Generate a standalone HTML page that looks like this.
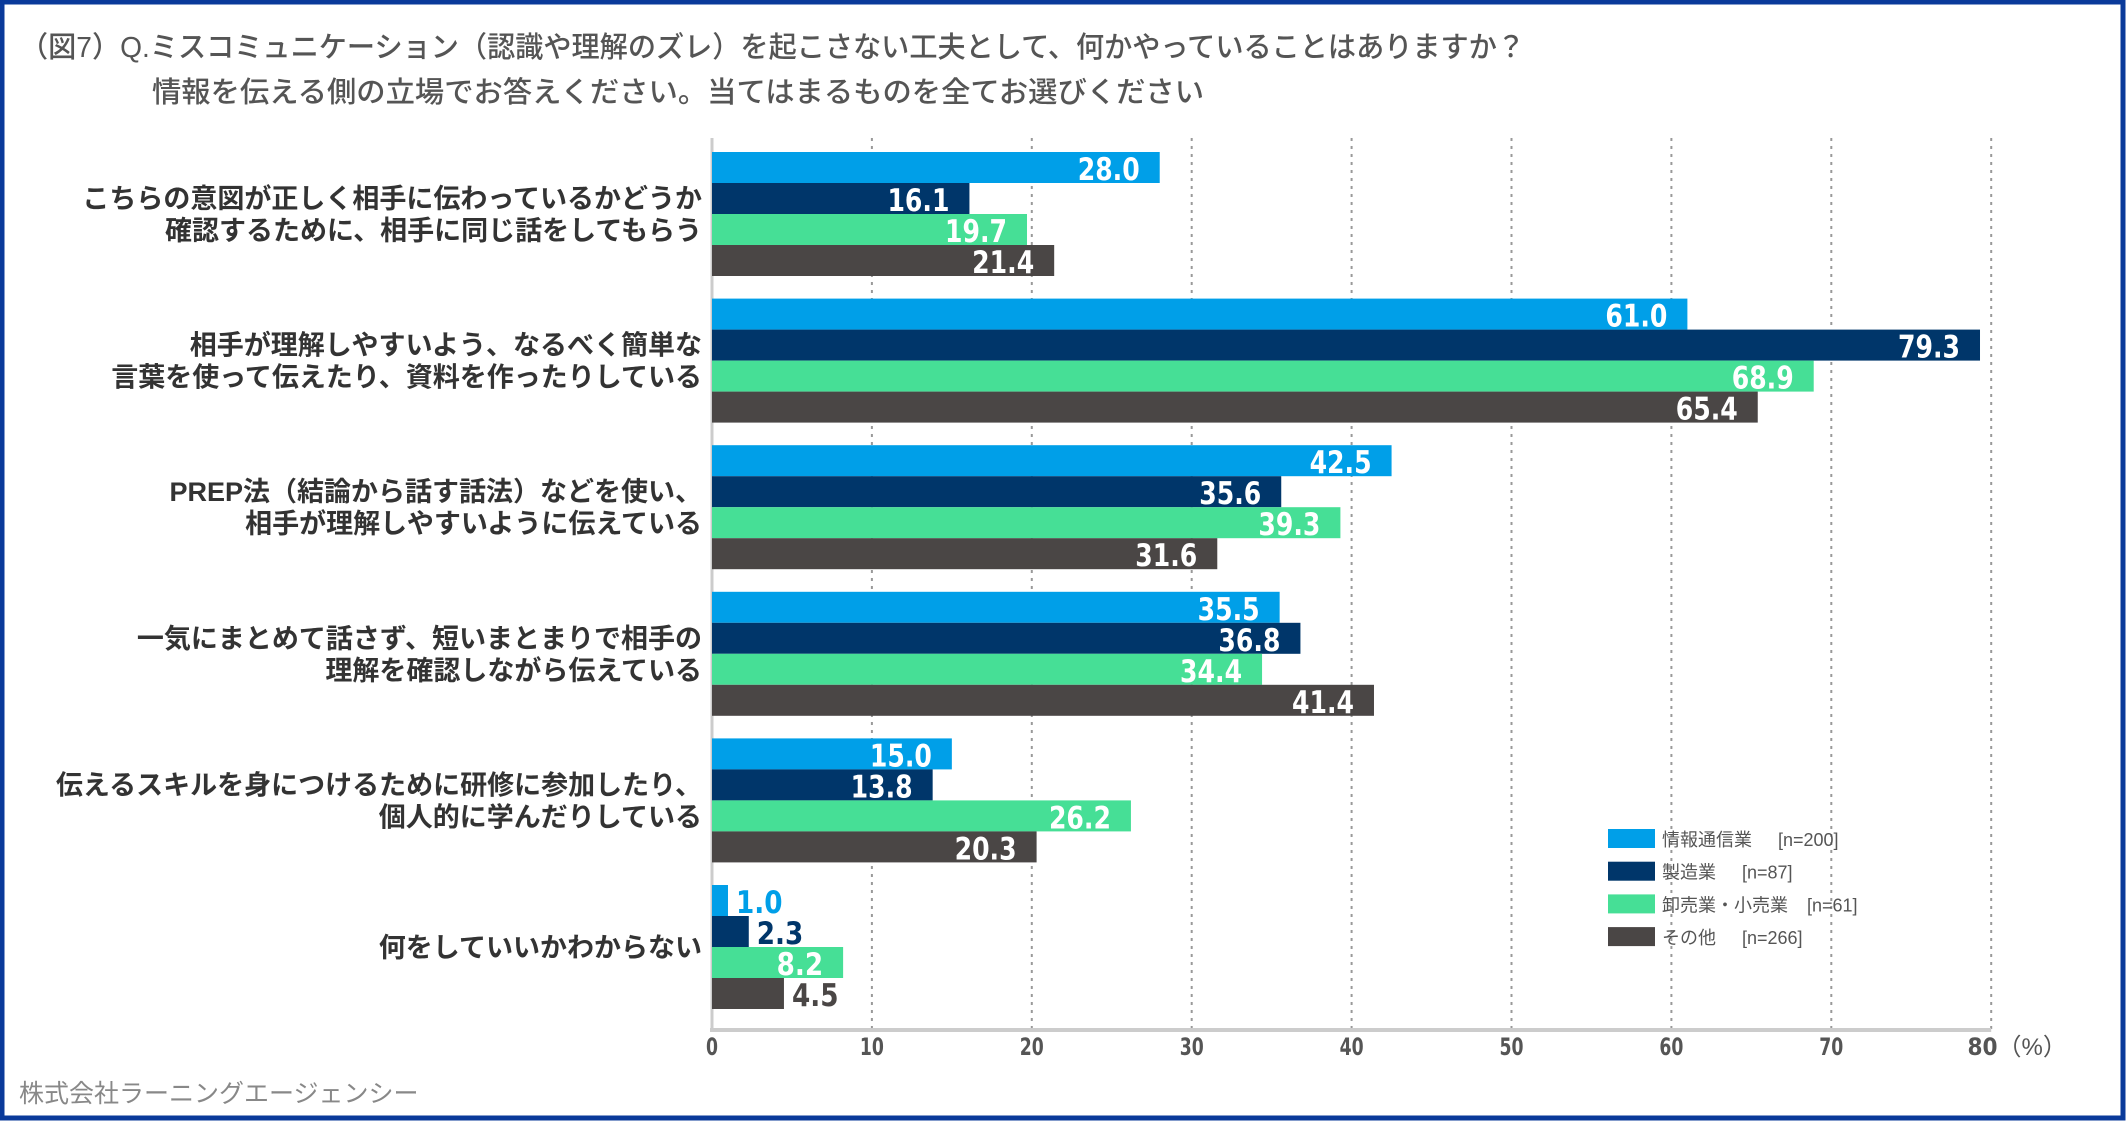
<!DOCTYPE html>
<html><head><meta charset="utf-8"><style>
html,body{margin:0;padding:0;background:#fff}
svg{display:block}
text{font-family:"Liberation Sans","Noto Sans CJK JP",sans-serif}
.num{font-family:"DejaVu Sans Condensed","DejaVu Sans","Liberation Sans",sans-serif;font-weight:bold}
</style></head><body>
<svg id="chart" width="2126" height="1122" viewBox="0 0 2126 1122" xmlns="http://www.w3.org/2000/svg">
<rect x="2" y="2" width="2121" height="1116" fill="#fff" stroke="#0a3a9a" stroke-width="5"/>
<text x="20" y="57" font-size="29" fill="#555" font-weight="500" textLength="1505" lengthAdjust="spacingAndGlyphs">（図7）Q.ミスコミュニケーション（認識や理解のズレ）を起こさない工夫として、何かやっていることはありますか？</text>
<text x="152" y="102" font-size="29" fill="#555" font-weight="500" textLength="1052" lengthAdjust="spacingAndGlyphs">情報を伝える側の立場でお答えください。当てはまるものを全てお選びください</text>
<g id="grid"></g>
<g id="bars"></g>
<g id="cats"></g>
<g id="ticks"></g>
<g id="legend"></g>
<text x="19" y="1102" font-size="25" fill="#888">株式会社ラーニングエージェンシー</text>
</svg>
<script>
const categories=[
 ["こちらの意図が正しく相手に伝わっているかどうか","確認するために、相手に同じ話をしてもらう"],
 ["相手が理解しやすいよう、なるべく簡単な","言葉を使って伝えたり、資料を作ったりしている"],
 ["PREP法（結論から話す話法）などを使い、","相手が理解しやすいように伝えている"],
 ["一気にまとめて話さず、短いまとまりで相手の","理解を確認しながら伝えている"],
 ["伝えるスキルを身につけるために研修に参加したり、","個人的に学んだりしている"],
 ["何をしていいかわからない"]
];
const seriesNames=["情報通信業","製造業","卸売業・小売業","その他"];
const seriesN=["[n=200]","[n=87]","[n=61]","[n=266]"];
const infoTech=[28.0,61.0,42.5,35.5,15.0,1.0];
const manufacturing=[16.1,79.3,35.6,36.8,13.8,2.3];
const wholesale=[19.7,68.9,39.3,34.4,26.2,8.2];
const other=[21.4,65.4,31.6,41.4,20.3,4.5];
const tickValues=[0,10,20,30,40,50,60,70,80];
const tickLabels=["0","10","20","30","40","50","60","70","80（%）"];

const NS="http://www.w3.org/2000/svg";
const colors=["#009fe8","#00366a","#46df96","#4a4645"];
const series=[infoTech,manufacturing,wholesale,other];
const x0=712, pxPer=15.99, top0=152, pitch=146.6, barH=31;
const plotTop=138, axisY=1030;
function X(v){return x0+v*pxPer;}
function mk(tag,attrs,parent){const e=document.createElementNS(NS,tag);for(const k in attrs)e.setAttribute(k,attrs[k]);parent.appendChild(e);return e;}
const grid=document.getElementById('grid'),bars=document.getElementById('bars'),cats=document.getElementById('cats'),ticks=document.getElementById('ticks'),legend=document.getElementById('legend');
tickValues.forEach((t,i)=>{
 if(t>0){const l=mk('line',{x1:X(t),x2:X(t),y1:plotTop,y2:axisY,stroke:'#999','stroke-width':2,'stroke-dasharray':'3,5'},grid);
 
 }
 const tx=mk('text',{x:X(t),y:1055,'font-size':24,fill:'#555','text-anchor':'middle',class:'num'},ticks);
 
 
 if(i===tickLabels.length-1){tx.setAttribute('x',X(t)+26);
  const a=mk('tspan',{},tx);a.textContent=t;
  const b=mk('tspan',{'font-family':'Liberation Sans,Noto Sans CJK JP,sans-serif','font-weight':'normal','font-size':24},tx);b.textContent=tickLabels[i].slice(String(t).length);}
 else {tx.textContent=tickLabels[i];tx.setAttribute('textLength',tickLabels[i].length*12);tx.setAttribute('lengthAdjust','spacingAndGlyphs');}
});
const la=mk('line',{x1:x0,x2:x0,y1:plotTop,y2:axisY,stroke:'#ccc','stroke-width':3},grid);


const ax=mk('line',{x1:x0-2,x2:X(80),y1:axisY,y2:axisY,stroke:'#ccc','stroke-width':4},grid);


categories.forEach((lines,c)=>{
 const gTop=top0+c*pitch, cy=gTop+barH*2;
 lines.forEach((ln,j)=>{
  const y=cy+10+(j-(lines.length-1)/2)*32;
  const t=mk('text',{x:702,y:y,'font-size':27,'font-weight':'bold',fill:'#333','text-anchor':'end'},cats);
  
  
  t.textContent=ln;
 });
 series.forEach((s,k)=>{
  const v=s[c], y=gTop+k*barH;
  const r=mk('rect',{x:x0,y:y,width:X(v)-x0,height:barH,fill:colors[k]},bars);
  
  
  const inside=(X(v)-x0)>80;
  const label=v.toFixed(1);
  const t=mk('text',{x:inside?X(v)-20:X(v)+8,y:y+barH-3,'font-size':31,fill:inside?'#fff':colors[k],'text-anchor':inside?'end':'start',class:'num',textLength:label.length*15.5,lengthAdjust:'spacingAndGlyphs'},bars);
  
  
  t.textContent=label;
 });
});
const nx=[1778,1742,1807,1742];
seriesNames.forEach((n,k)=>{
 const y=829+k*32.7;
 const r=mk('rect',{x:1608,y:y,width:47,height:19,fill:colors[k]},legend);
 
 
 const t=mk('text',{x:1662,y:y+17,'font-size':18,fill:'#555'},legend);
 
 
 t.textContent=n;
 const t2=mk('text',{x:nx[k],y:y+17,'font-size':18,fill:'#555'},legend);
 
 
 t2.textContent=seriesN[k];
});
</script>
</body></html>
